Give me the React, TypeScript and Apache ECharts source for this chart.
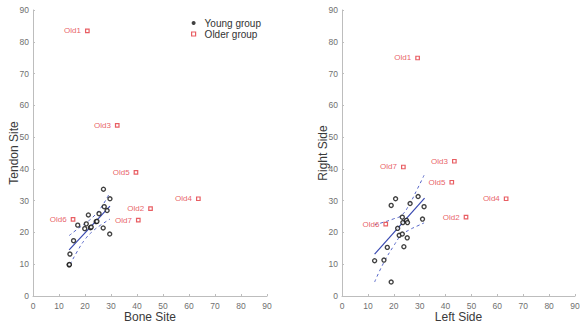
import React, { useEffect, useRef } from "react";
import * as echarts from "echarts";

const tickValues = [0, 10, 20, 30, 40, 50, 60, 70, 80, 90];

// Left panel: Bone Site (x) vs Tendon Site (y)
const youngBoneTendon: number[][] = [
  [13.9, 9.8], [14.0, 9.9], [14.2, 13.2], [15.6, 17.4], [17.2, 22.3], [19.9, 21.2],
  [20.5, 22.7], [21.3, 25.5], [22.1, 21.5], [22.4, 21.7], [24.3, 23.4], [24.6, 23.5],
  [25.4, 25.9], [27.1, 33.6], [27.4, 28.1], [27.0, 21.4], [28.5, 26.9], [29.6, 30.6],
  [29.5, 19.5],
];
const olderNames = ["Old1", "Old2", "Old3", "Old4", "Old5", "Old6", "Old7"];
const olderBoneTendon: number[][] = [
  [20.9, 83.4], [45.2, 27.5], [32.4, 53.7], [63.6, 30.6], [39.6, 38.9], [15.4, 24.1], [40.5, 23.9],
];
const fitBoneTendon: number[][] = [[13.9, 14.5], [29.6, 28.3]];
const upperBoneTendon: number[][] = [[13.9, 19.0], [17, 21.0], [20, 22.8], [23, 24.8], [26, 27.6], [29.6, 32.6]];
const lowerBoneTendon: number[][] = [[14.3, 10.0], [17, 14.0], [20, 17.8], [23, 20.4], [26, 22.3], [29.6, 24.2]];

// Right panel: Left Side (x) vs Right Side (y)
const youngLeftRight: number[][] = [
  [12.6, 11.1], [16.2, 11.3], [17.5, 15.3], [19.0, 4.4], [19.0, 28.5], [20.7, 30.6],
  [21.5, 21.3], [22.1, 19.1], [23.3, 19.5], [23.3, 24.8], [23.5, 23.1], [23.9, 15.5],
  [24.9, 23.8], [25.3, 23.1], [25.2, 18.3], [26.3, 29.1], [29.4, 31.3], [31.1, 24.2],
  [31.7, 28.1],
];
const olderLeftRight: number[][] = [
  [29.2, 74.9], [47.9, 24.8], [43.4, 42.4], [63.4, 30.6], [42.4, 35.8], [16.9, 22.6], [23.7, 40.6],
];
const fitLeftRight: number[][] = [[12.6, 13.2], [31.9, 30.8]];
const upperLeftRight: number[][] = [[12.6, 22.4], [16, 23.2], [20, 24.3], [23, 25.4], [26, 28.8], [29, 33.5], [31.7, 38.0]];
const lowerLeftRight: number[][] = [[12.6, 4.4], [16, 10.3], [20, 15.8], [23, 19.2], [26, 20.8], [29, 22.0], [31.7, 23.0]];

const axisGray = "#bdbdbd";
const labelGray = "#707070";
const red = "#e2363c";
const blue = "#3848b0";
const font = "Liberation Sans, Arial, sans-serif";

function withNames(pts: number[][]) {
  return pts.map((p, i) => ({ value: p, name: olderNames[i] }));
}

function makeX(idx: number, name: string) {
  return {
    type: "value",
    gridIndex: idx,
    min: 0,
    max: 90,
    interval: 10,
    name,
    nameLocation: "middle",
    nameGap: 15,
    nameMoveOverlap: false,
    nameTextStyle: { fontSize: 12, color: "#3a3a3a", fontFamily: font },
    axisLine: { show: true, lineStyle: { color: axisGray, width: 1 } },
    axisTick: { show: true, inside: true, length: 2, lineStyle: { color: axisGray } },
    axisLabel: { fontSize: 8.5, color: labelGray, margin: 5, fontFamily: font },
    splitLine: { show: false },
  };
}

function makeY(idx: number, name: string) {
  return {
    type: "value",
    gridIndex: idx,
    min: 0,
    max: 90,
    interval: 10,
    name,
    nameLocation: "middle",
    nameGap: 13,
    nameMoveOverlap: false,
    nameTextStyle: { fontSize: 12, color: "#3a3a3a", fontFamily: font },
    axisLine: { show: true, lineStyle: { color: axisGray, width: 1 } },
    axisTick: { show: true, inside: true, length: 2, lineStyle: { color: axisGray } },
    axisLabel: { fontSize: 8.5, color: labelGray, margin: 4, fontFamily: font },
    splitLine: { show: false },
  };
}

function panelSeries(idx: number, young: number[][], older: number[][], fit: number[][], up: number[][], lo: number[][]) {
  return [
    {
      name: "Young group",
      type: "scatter",
      xAxisIndex: idx,
      yAxisIndex: idx,
      data: young,
      symbol: "circle",
      symbolSize: 4,
      itemStyle: { color: "#ffffff", borderColor: "#111111", borderWidth: 1.4 },
      z: 5,
    },
    {
      name: "Older group",
      type: "scatter",
      xAxisIndex: idx,
      yAxisIndex: idx,
      data: withNames(older),
      symbol: "rect",
      symbolSize: 3.5,
      itemStyle: { color: "#ffffff", borderColor: red, borderWidth: 1.2 },
      label: {
        show: true,
        position: "left",
        distance: 4,
        formatter: "{b}",
        fontSize: 8,
        color: red,
        fontFamily: font,
      },
      z: 5,
    },
    {
      type: "line",
      xAxisIndex: idx,
      yAxisIndex: idx,
      data: fit,
      showSymbol: false,
      lineStyle: { color: blue, width: 1.2 },
      z: 3,
    },
    {
      type: "line",
      xAxisIndex: idx,
      yAxisIndex: idx,
      data: up,
      showSymbol: false,
      smooth: true,
      lineStyle: { color: "#5565c8", width: 1, type: [3, 3] },
      z: 3,
    },
    {
      type: "line",
      xAxisIndex: idx,
      yAxisIndex: idx,
      data: lo,
      showSymbol: false,
      smooth: true,
      lineStyle: { color: "#5565c8", width: 1, type: [3, 3] },
      z: 3,
    },
  ];
}

export default function App() {
  const ref = useRef<HTMLDivElement>(null);
  useEffect(() => {
    if (!ref.current) return;
    const chart = echarts.init(ref.current, undefined, { renderer: "svg" });
    chart.setOption({
      animation: false,
      backgroundColor: "#ffffff",
      grid: [
        { left: 33, right: 313, top: 10, bottom: 30, outerBoundsMode: "none", containLabel: false },
        { left: 342, right: 5, top: 10, bottom: 30, outerBoundsMode: "none", containLabel: false },
      ],
      legend: {
        data: [
          { name: "Young group", icon: "circle", itemStyle: { color: "#111111", borderWidth: 0 } },
          { name: "Older group", icon: "rect", itemStyle: { color: "#ffffff", borderColor: red, borderWidth: 1.2 } },
        ],
        orient: "vertical",
        left: 191,
        top: 18,
        padding: 0,
        itemWidth: 4,
        itemHeight: 4,
        itemGap: 1,
        selectedMode: false,
        textStyle: { fontSize: 10, color: "#333333", fontFamily: font, padding: [0, 0, 0, 4] },
      },
      xAxis: [makeX(0, "Bone Site"), makeX(1, "Left Side")],
      yAxis: [makeY(0, "Tendon Site"), makeY(1, "Right Side")],
      series: [
        ...panelSeries(0, youngBoneTendon, olderBoneTendon, fitBoneTendon, upperBoneTendon, lowerBoneTendon),
        ...panelSeries(1, youngLeftRight, olderLeftRight, fitLeftRight, upperLeftRight, lowerLeftRight),
      ],
    });
    return () => chart.dispose();
  }, []);
  return <div ref={ref} style={{ width: 580, height: 326, position: "absolute", left: 0, top: 0 }} />;
}

export { tickValues };
